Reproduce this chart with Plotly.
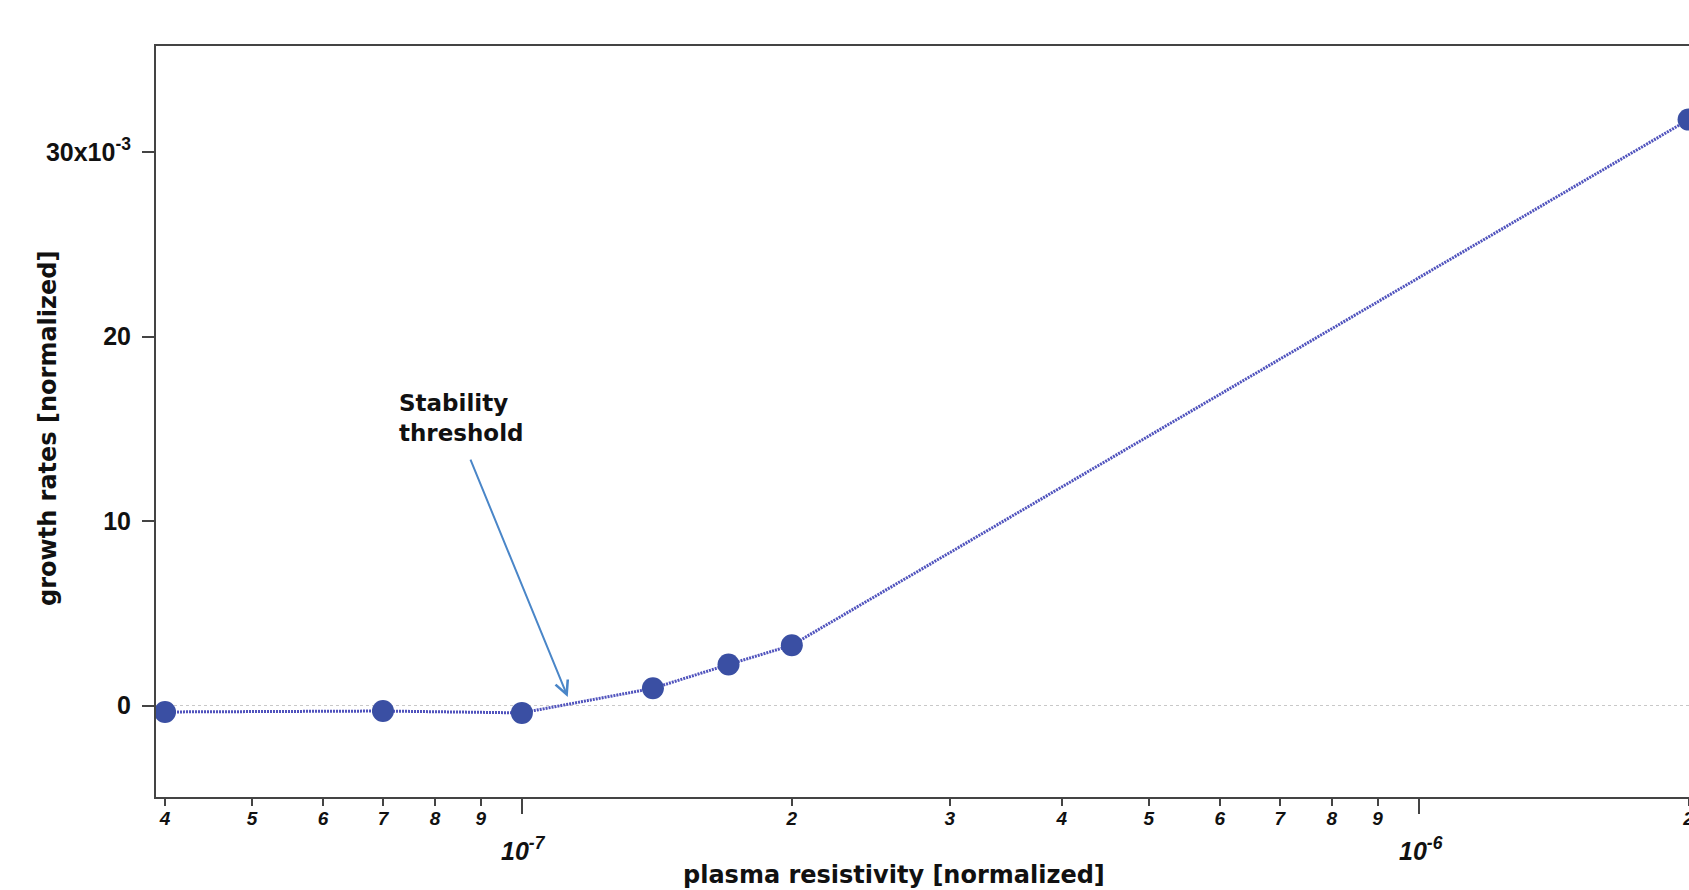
import plotly.graph_objects as go
import math

# ---- data ----
resistivity = [4e-8, 7e-8, 1e-7, 1.4e-7, 1.7e-7, 2e-7, 2e-6]
growth_rate = [-0.35e-3, -0.3e-3, -0.4e-3, 0.93e-3, 2.22e-3, 3.27e-3, 31.76e-3]

x_minor_vals = [4e-8, 5e-8, 6e-8, 7e-8, 8e-8, 9e-8,
                2e-7, 3e-7, 4e-7, 5e-7, 6e-7, 7e-7, 8e-7, 9e-7, 2e-6]
x_minor_text = ["4", "5", "6", "7", "8", "9",
                "2", "3", "4", "5", "6", "7", "8", "9", "2"]
x_decade_vals = [1e-7, 1e-6]
x_decade_text = ["10<sup>-7</sup>", "10<sup>-6</sup>"]

y_tick_vals = [0, 0.01, 0.02, 0.03]
y_tick_text = ["0", "10", "20", "30x10<sup>-3</sup>"]

fig = go.Figure()
fig.add_trace(go.Scatter(
    x=resistivity, y=growth_rate, mode="lines+markers",
    line=dict(color="#5053bd", width=3, dash="2px,1px"),
    marker=dict(color="#3a4fa3", size=22),
    showlegend=False,
))

# zero reference line
fig.add_shape(type="line", xref="paper", x0=0, x1=1, yref="y", y0=0, y1=0,
              line=dict(color="#c8c8c8", width=1, dash="dot"), layer="below")

tick_font = dict(family="Liberation Sans", size=19, color="#111", weight="bold", style="italic")

fig.update_xaxes(
    type="log", range=[-7.408, -5.6985], automargin=False,
    showline=True, linecolor="#444", linewidth=2, mirror=True,
    showgrid=False, zeroline=False,
    tickmode="array", tickvals=x_minor_vals, ticktext=x_minor_text,
    ticks="outside", ticklen=7, tickwidth=1.5, tickcolor="#444",
    ticklabelstandoff=-4, ticklabeloverflow="allow",
    tickfont=tick_font,
    minor=dict(tickmode="array", tickvals=x_decade_vals, ticks="outside",
               ticklen=15, tickwidth=1.5, tickcolor="#444", showgrid=False),
)
fig.update_yaxes(
    range=[-0.00496, 0.03575], automargin=False,
    showline=True, linecolor="#444", linewidth=2, mirror=False,
    showgrid=False, zeroline=False,
    tickmode="array", tickvals=y_tick_vals, ticktext=y_tick_text,
    ticks="outside", ticklen=12, tickwidth=1.5, tickcolor="#444",
    ticklabelstandoff=6,
    tickfont=dict(family="Liberation Sans", size=25, color="#111", weight="bold"),
)

# decade labels
for v, t in zip(x_decade_vals, x_decade_text):
    fig.add_annotation(x=math.log10(v), xref="x", y=0, yref="paper",
                       yanchor="top", xanchor="center", yshift=-34, xshift=2,
                       text=t, showarrow=False,
                       font=dict(family="Liberation Sans", size=25, color="#111",
                                 weight="bold", style="italic"))

# axis titles
fig.add_annotation(x=0.4814, xref="paper", y=0, yref="paper", yshift=-78,
                   yanchor="middle", xanchor="center", showarrow=False,
                   text="plasma resistivity [normalized]",
                   font=dict(family="DejaVu Sans", size=24, color="#111", weight="bold"))
fig.add_annotation(x=0, xref="paper", xshift=-108, y=0.49, yref="paper",
                   yanchor="middle", xanchor="center", showarrow=False, textangle=-90,
                   text="growth rates [normalized]",
                   font=dict(family="DejaVu Sans", size=24, color="#111", weight="bold"))

# stability threshold annotation
fig.add_annotation(x=-7.139, xref="x", y=0.0156, yref="y",
                   xanchor="left", yanchor="middle", align="left", showarrow=False,
                   text="Stability<br>threshold",
                   font=dict(family="DejaVu Sans", size=23, color="#111", weight="bold"))
fig.add_annotation(x=math.log10(1.125e-7), y=0.00046, xref="x", yref="y",
                   ax=math.log10(8.75e-8), ay=0.01341, axref="x", ayref="y",
                   text="", showarrow=True, arrowhead=5, arrowsize=1.3,
                   arrowwidth=2, arrowcolor="#4a86c8")

fig.update_layout(
    width=1689, height=890,
    margin=dict(l=156, r=0, t=46, b=93, autoexpand=False),
    plot_bgcolor="white", paper_bgcolor="white",
)

fig.write_html("out.html", config={"displayModeBar": False},
               post_script="document.body.style.margin='0';document.body.style.overflow='hidden';")
